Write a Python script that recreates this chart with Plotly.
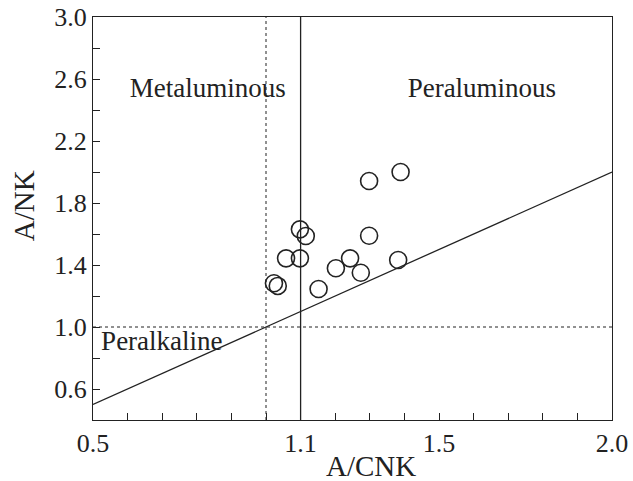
import plotly.graph_objects as go

# Data
acnk = [1.298, 1.389, 1.098, 1.115, 1.298, 1.058, 1.098, 1.243, 1.202, 1.382, 1.274, 1.023, 1.034, 1.152]
ank = [1.942, 2.000, 1.630, 1.587, 1.589, 1.443, 1.443, 1.443, 1.379, 1.432, 1.350, 1.282, 1.265, 1.245]

x_tickvals = [0.5, 0.6, 0.7, 0.8, 0.9, 1.0, 1.1, 1.2, 1.3, 1.4, 1.5, 1.6, 1.7, 1.8, 1.9, 2.0]
x_ticktext = ["0.5", "", "", "", "", "", "1.1", "", "", "", "1.5", "", "", "", "", "2.0"]
y_tickvals = [0.6, 0.8, 1.0, 1.2, 1.4, 1.6, 1.8, 2.0, 2.2, 2.4, 2.6, 2.8, 3.0]
y_ticktext = ["0.6", "", "1.0", "", "1.4", "", "1.8", "", "2.2", "", "2.6", "", "3.0"]

boundary_x = [0.5, 2.0]
boundary_y = [0.5, 2.0]

regions = ["Metaluminous", "Peraluminous", "Peralkaline"]
region_x = [0.832, 1.624, 0.699]
region_y = [2.53, 2.53, 0.897]

x_title = "A/CNK"
y_title = "A/NK"

ink = "#222222"
font = "Liberation Serif"

fig = go.Figure()

# reference lines
fig.add_trace(go.Scatter(x=[1.0, 1.0], y=[0.4, 3.0], mode="lines",
                         line=dict(color=ink, width=1, dash="dot"), hoverinfo="skip", showlegend=False))
fig.add_trace(go.Scatter(x=[0.5, 2.0], y=[1.0, 1.0], mode="lines",
                         line=dict(color=ink, width=1, dash="dot"), hoverinfo="skip", showlegend=False))
fig.add_trace(go.Scatter(x=[1.1, 1.1], y=[0.4, 3.0], mode="lines",
                         line=dict(color=ink, width=1.3), hoverinfo="skip", showlegend=False))
fig.add_trace(go.Scatter(x=boundary_x, y=boundary_y, mode="lines",
                         line=dict(color=ink, width=1.3), hoverinfo="skip", showlegend=False))

fig.add_trace(go.Scatter(x=acnk, y=ank, mode="markers",
                         marker=dict(symbol="circle-open", size=17, color=ink, line=dict(width=1.6, color=ink)),
                         showlegend=False))

fig.add_trace(go.Scatter(x=region_x, y=region_y, mode="text", text=regions,
                         textfont=dict(family=font, size=27, color=ink), textposition="middle center",
                         hoverinfo="skip", showlegend=False))

fig.add_annotation(text=x_title, xref="paper", yref="paper", x=0.536, y=-0.114,
                   showarrow=False, xanchor="center", yanchor="middle",
                   font=dict(family=font, size=29, color=ink))
fig.add_annotation(text=y_title, xref="paper", yref="paper", x=-0.133, y=0.533,
                   showarrow=False, xanchor="center", yanchor="middle", textangle=-90,
                   font=dict(family=font, size=29, color=ink))

axis_common = dict(showgrid=False, zeroline=False, showline=True, linecolor=ink, linewidth=1.3,
                   mirror=True, ticks="inside", ticklen=7, tickcolor=ink, tickwidth=1.2,
                   automargin=False,
                   tickfont=dict(family=font, size=26, color=ink))

fig.update_layout(
    width=633, height=481,
    margin=dict(l=93, r=21, t=17, b=61),
    paper_bgcolor="white", plot_bgcolor="white",
    xaxis=dict(range=[0.5, 2.0], tickmode="array", tickvals=x_tickvals, ticktext=x_ticktext,
               **axis_common),
    yaxis=dict(range=[0.4, 3.0], tickmode="array", tickvals=y_tickvals, ticktext=y_ticktext,
               **axis_common),
)

fig.write_html("out.html")
